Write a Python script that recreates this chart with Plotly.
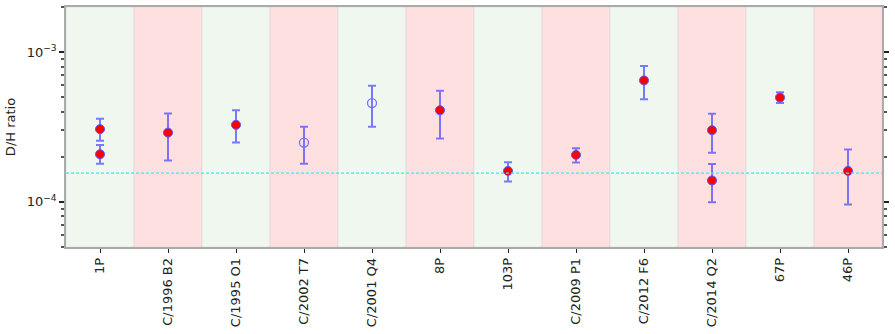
import plotly.graph_objects as go
import numpy as np

# Comets, in plotting order
comets = ["1P", "C/1996 B2", "C/1995 O1", "C/2002 T7", "C/2001 Q4", "8P",
          "103P", "C/2009 P1", "C/2012 F6", "C/2014 Q2", "67P", "46P"]
# Band colour per comet: "g" = green band, "r" = red band
band_kind = ["g", "r", "g", "r", "g", "r", "g", "r", "g", "r", "g", "r"]

# Measurements with direct detections (filled markers)
meas_comet = ["1P", "1P", "C/1996 B2", "C/1995 O1", "8P", "103P",
              "C/2009 P1", "C/2012 F6", "C/2014 Q2", "C/2014 Q2", "67P", "46P"]
meas_dh = [3.06e-4, 2.08e-4, 2.90e-4, 3.27e-4, 4.09e-4, 1.61e-4,
           2.06e-4, 6.47e-4, 3.01e-4, 1.39e-4, 4.97e-4, 1.61e-4]
meas_hi = [3.59e-4, 2.40e-4, 3.89e-4, 4.09e-4, 5.53e-4, 1.84e-4,
           2.28e-4, 8.09e-4, 3.87e-4, 1.79e-4, 5.39e-4, 2.24e-4]
meas_lo = [2.56e-4, 1.80e-4, 1.89e-4, 2.49e-4, 2.65e-4, 1.37e-4,
           1.83e-4, 4.85e-4, 2.13e-4, 0.995e-4, 4.57e-4, 0.96e-4]

# Indirect estimates (open markers)
ind_comet = ["C/2002 T7", "C/2001 Q4"]
ind_dh = [2.49e-4, 4.57e-4]
ind_hi = [3.18e-4, 5.97e-4]
ind_lo = [1.80e-4, 3.18e-4]

# Terrestrial ocean reference (VSMOW)
vsmow = 1.5576e-4

err_col = "rgba(40,40,255,0.6)"

fig = go.Figure()

for i, kind in enumerate(band_kind):
    fig.add_shape(type="rect", xref="x", yref="paper",
                  x0=i - 0.5, x1=i + 0.5, y0=0, y1=1,
                  fillcolor="#eff7ef" if kind == "g" else "#ffe0e0",
                  line=dict(width=1, color="rgba(200,200,200,0.35)"),
                  layer="below")

fig.add_hline(y=vsmow, line=dict(color="#33eeee", width=1.3, dash="3px,2px"))

fig.add_trace(go.Scatter(
    x=meas_comet, y=meas_dh, mode="markers",
    marker=dict(size=9, color="red", line=dict(color="#5555ff", width=1)),
    error_y=dict(type="data", symmetric=False,
                 array=[h - v for h, v in zip(meas_hi, meas_dh)],
                 arrayminus=[v - l for v, l in zip(meas_dh, meas_lo)],
                 color=err_col, thickness=2, width=4),
    showlegend=False))

fig.add_trace(go.Scatter(
    x=ind_comet, y=ind_dh, mode="markers",
    marker=dict(size=9, color="#7070ff", symbol="circle-open",
                line=dict(color="#7070ff", width=1.3)),
    error_y=dict(type="data", symmetric=False,
                 array=[h - v for h, v in zip(ind_hi, ind_dh)],
                 arrayminus=[v - l for v, l in zip(ind_dh, ind_lo)],
                 color=err_col, thickness=2, width=4),
    showlegend=False))

minor_vals = [k * 1e-5 for k in range(5, 10)] + [k * 1e-4 for k in range(2, 10)] + [2e-3]

fig.update_layout(
    width=895, height=334,
    margin=dict(l=66, r=13, t=5, b=87),
    paper_bgcolor="white", plot_bgcolor="white",
    font=dict(family="DejaVu Sans", size=13, color="#222"),
    xaxis=dict(type="category", categoryorder="array", categoryarray=comets,
               range=[-0.5, len(comets) - 0.5], tickangle=-90,
               ticks="outside", ticklen=4, tickcolor="#222",
               showline=True, linecolor="#aaaaaa", linewidth=1.5, mirror=True,
               showgrid=False, zeroline=False),
    yaxis=dict(type="log", range=[np.log10(5e-5), np.log10(2e-3)],
               tickmode="array", tickvals=[1e-4, 1e-3],
               ticktext=["10<sup>\u22124</sup>", "10<sup>\u22123</sup>"],
               ticks="outside", ticklen=5, tickwidth=1.5, tickcolor="#222",
               minor=dict(tickmode="array", tickvals=minor_vals, ticks="outside",
                          ticklen=3, tickcolor="#555", showgrid=False),
               showline=True, linecolor="#aaaaaa", linewidth=1.5, mirror="allticks",
               showgrid=False, zeroline=False,
               title=dict(text="D/H ratio", font=dict(size=13), standoff=8)),
)

fig.write_html("out.html")
